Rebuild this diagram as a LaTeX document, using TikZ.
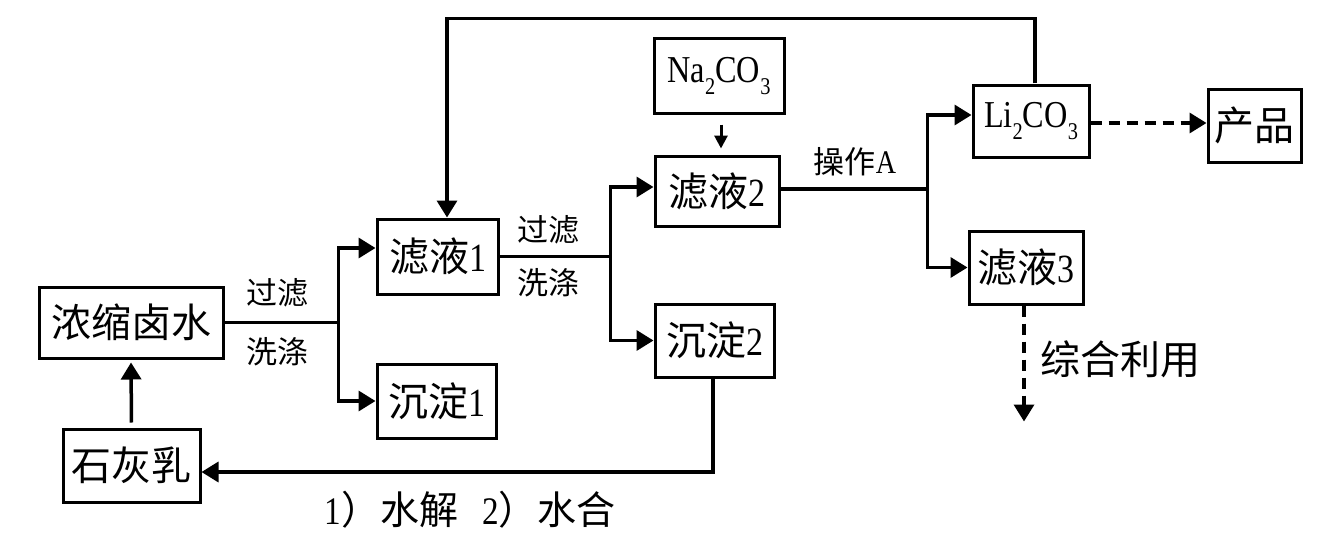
\documentclass[tikz,border=0pt]{standalone}
\usepackage{fontspec}
\setmainfont{Liberation Serif}[FakeStretch=0.85]
\newfontfamily\cjk{Noto Sans CJK SC}
\usetikzlibrary{arrows.meta}
\newcommand{\chemsub}[1]{\raisebox{-0.3em}{\fontsize{24}{24}\selectfont #1}}

\begin{document}
\begin{tikzpicture}[x=1pt,y=-1pt,
    box/.style={draw,line width=3pt,inner sep=0pt,minimum height=73pt,font=\fontsize{40}{42}\selectfont},
    chem/.style={font=\fontsize{38}{40}\selectfont},
    pipe/.style={line width=3.5pt},
    flow/.style={pipe,-{Triangle[length=17pt,width=20pt]}},
    thin flow/.style={line width=3pt,-{Triangle[length=13pt,width=13pt]}},
    dashflow/.style={flow,dash pattern=on 11pt off 7pt},
    lbl/.style={font=\fontsize{31}{33}\selectfont\cjk}]
            \useasboundingbox (0,0) rectangle (1336,543);

            % boxes
            \node[box,minimum width=184pt,minimum height=71pt] (nongsuo) at (131,322.5) {\cjk 浓缩卤水};
            \node[box,minimum width=137pt] (shihui) at (131.5,465.5) {\cjk 石灰乳};
            \node[box,minimum width=121pt,minimum height=75pt] (lvye1) at (437.5,256.5) {{\cjk 滤液}1};
            \node[box,minimum width=119pt,minimum height=74pt] (chendian1) at (436.5,401) {{\cjk 沉淀}1};
            \node[box,chem,minimum width=130pt,minimum height=74pt] (na2co3) at (719,76) {Na\chemsub{2}CO\chemsub{3}};
            \node[box,minimum width=124pt,minimum height=70pt] (lvye2) at (717,191) {{\cjk 滤液}2};
            \node[box,minimum width=119pt] (chendian2) at (714.5,340.5) {{\cjk 沉淀}2};
            \node[box,chem,minimum width=116pt,minimum height=72pt] (li2co3) at (1031,121) {Li\chemsub{2}CO\chemsub{3}};
            \node[box,minimum width=114pt] (lvye3) at (1026,267.5) {{\cjk 滤液}3};
            \node[box,minimum width=93pt] (chanpin) at (1254.5,125.5) {\cjk 产品};

            % first filtering
            \draw[pipe] (nongsuo.east) -- ++(114,0) coordinate (b1);
            \draw[flow] (b1) |- ([yshift=8.5pt]lvye1.west);
            \draw[flow] (b1) |- (chendian1.west);
            \node[lbl] (guolv1) at (277,293) {过滤};
            \node[lbl] (xidi1) at (277,352) {洗涤};

            % second filtering
            \draw[pipe] (lvye1.east) -- ++(111,0) coordinate (b2);
            \draw[flow] (b2) |- ([yshift=4pt]lvye2.west);
            \draw[flow] (b2) |- (chendian2.west);
            \node[lbl] (guolv2) at (548,230) {过滤};
            \node[lbl] (xidi2) at (548,283) {洗涤};

            \draw[thin flow,shorten <=10pt,shorten >=6pt] ([xshift=2pt]na2co3.south) -- ([xshift=4pt]lvye2.north);

            % operation A
            \draw[pipe] ([yshift=2pt]lvye2.east) -- ++(147,0) coordinate (b3);
            \draw[flow] (b3) |- ([yshift=6pt]li2co3.west);
            \draw[flow] (b3) |- (lvye3.west);
            \node[lbl] (caozuo) at (855,162) {操作{\rmfamily\fontsize{33}{35}\selectfont A}};

            % recycle and products
            \draw[flow] ([xshift=4pt]li2co3.north) -- ++(0,-65) -| ([xshift=9.5pt]lvye1.north);
            \draw[dashflow] ([yshift=-2pt]li2co3.east) -- ([yshift=2.5pt]chanpin.west);
            \draw[dashflow] ([xshift=-2pt]lvye3.south) -- ++(0,116) coordinate (liyong);
            \node[lbl,font=\fontsize{40}{42}\selectfont\cjk] (zonghe) at (1120,359) {综合利用};

            \draw[flow] ([xshift=-1.5pt]chendian2.south) |- ([yshift=-6.5pt]shihui.east);
            \draw[flow,shorten <=5pt,shorten >=3pt] (shihui.north) -- (nongsuo.south);
            \node[font=\fontsize{39}{41}\selectfont] (shuijie) at (470,510) {1{\cjk ）水解}\hspace{24pt}2{\cjk ）水合}};
\end{tikzpicture}
\end{document}
